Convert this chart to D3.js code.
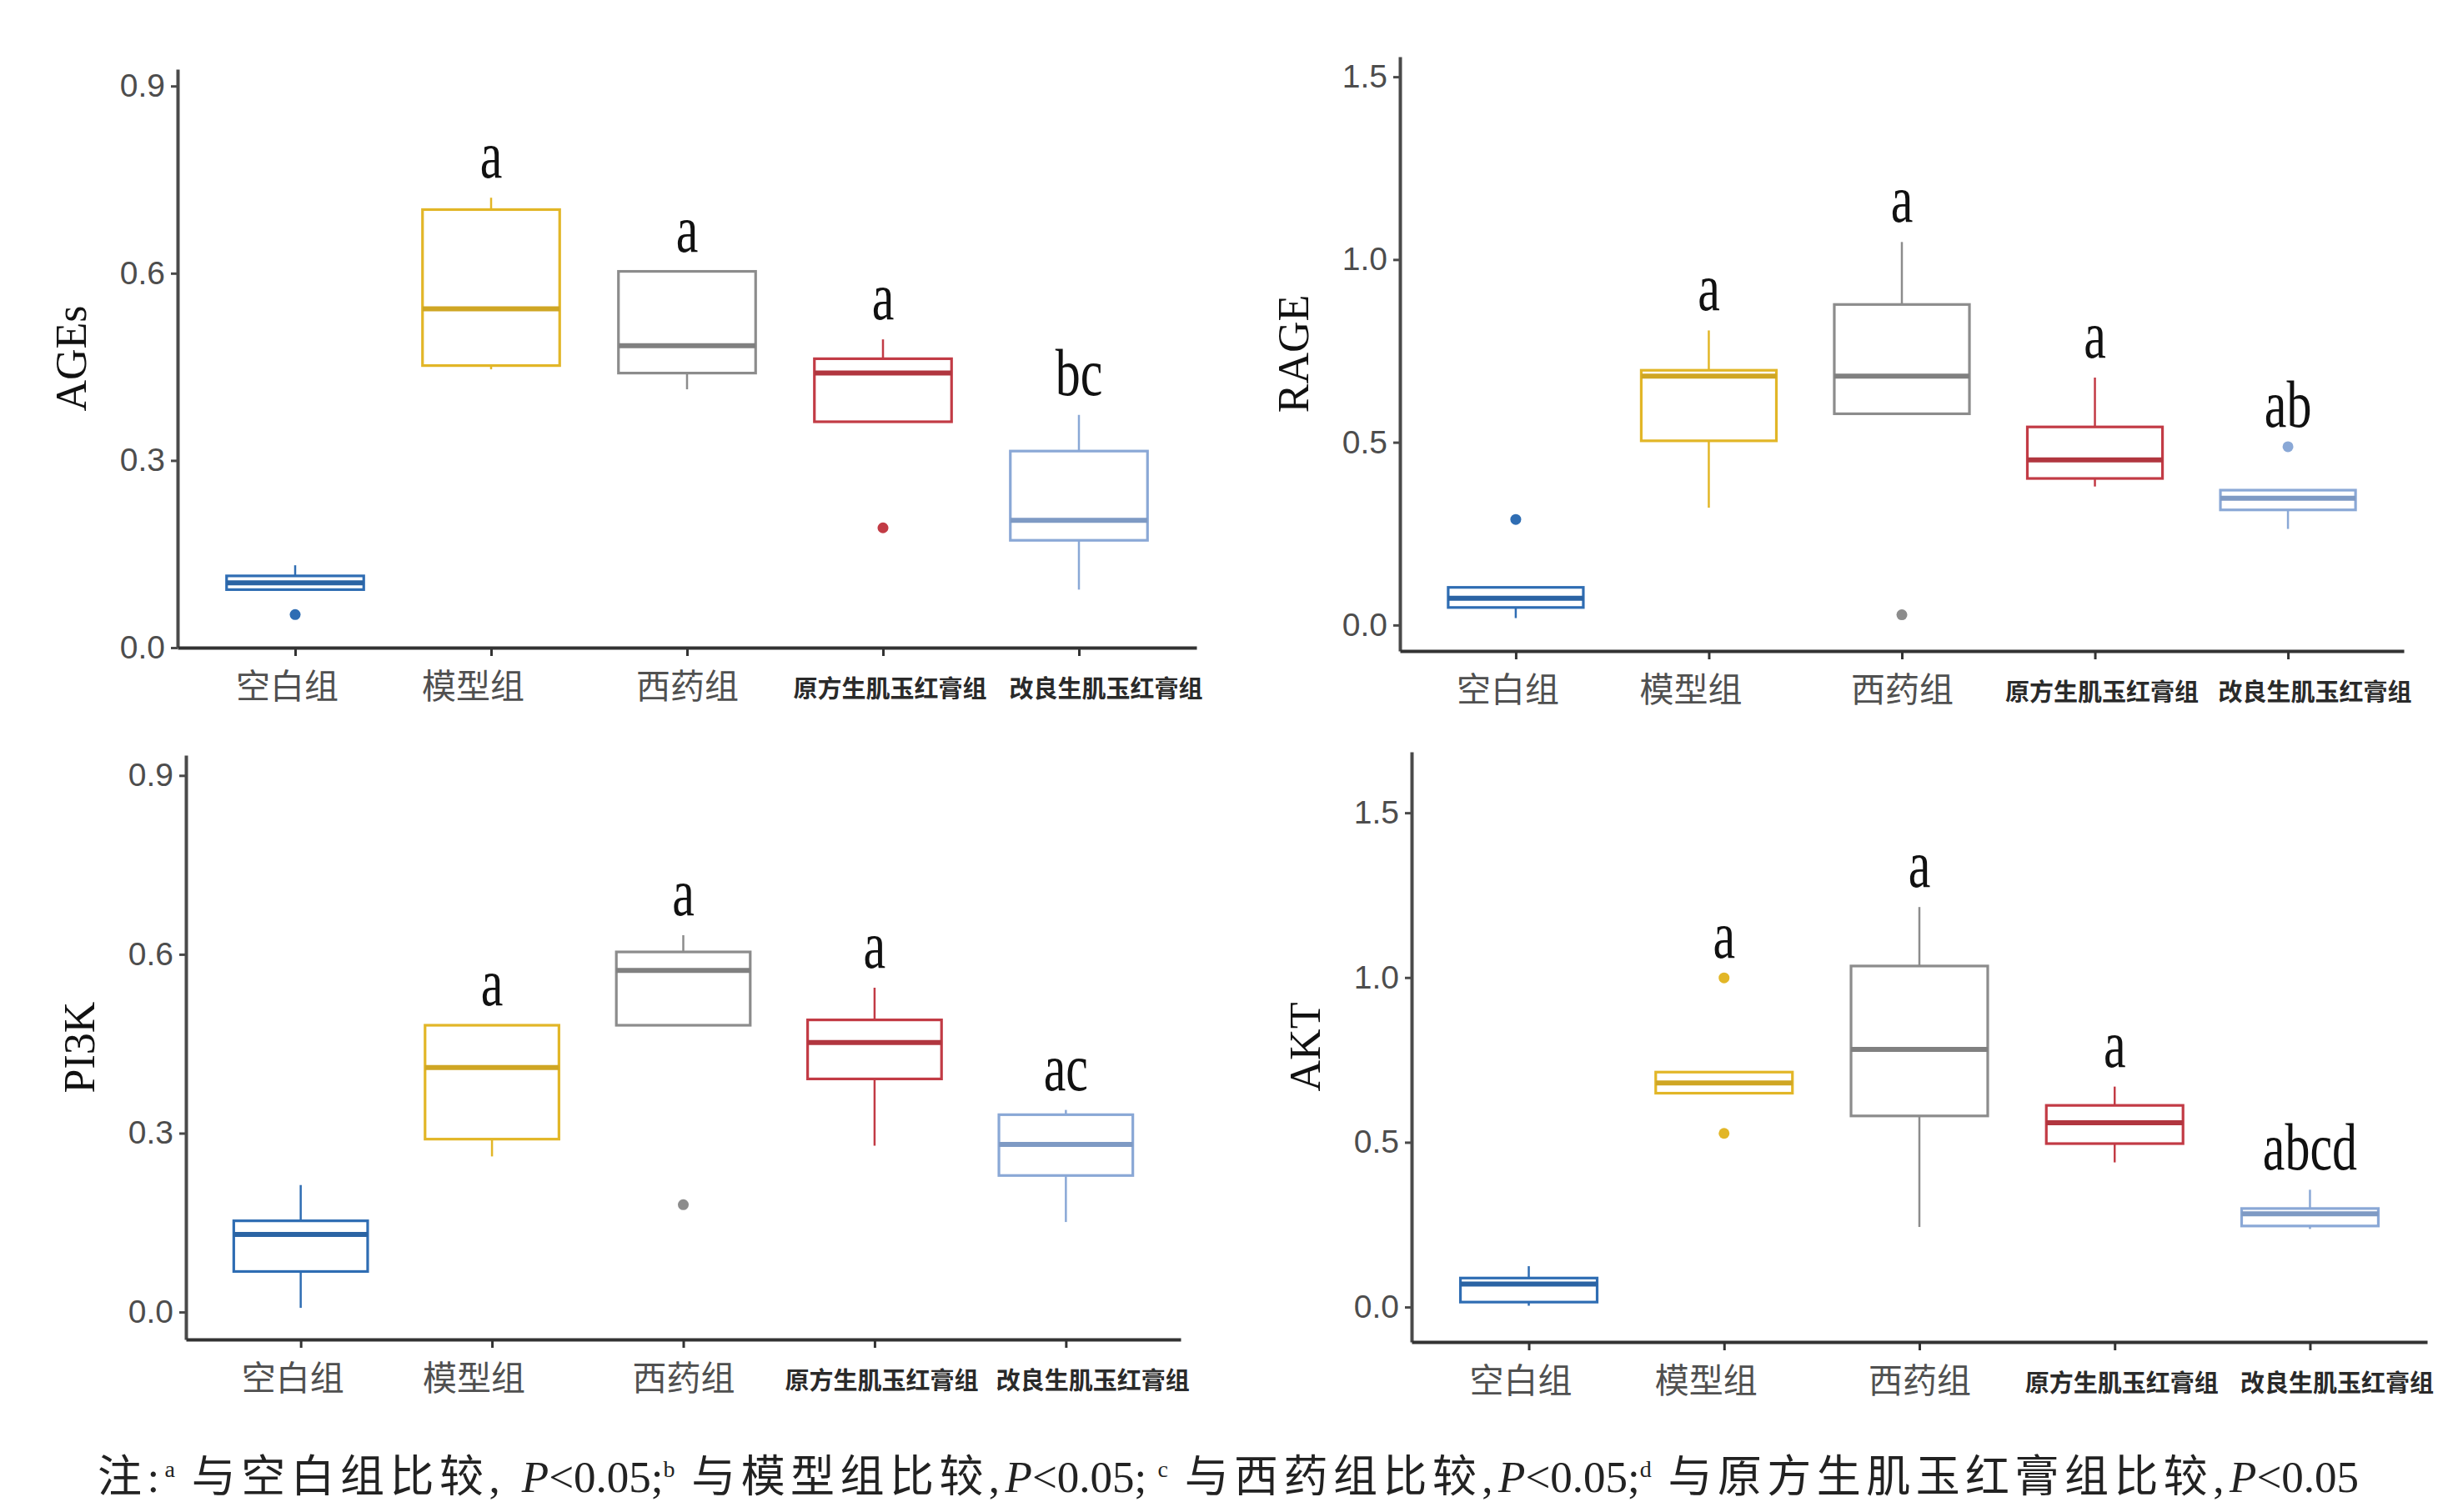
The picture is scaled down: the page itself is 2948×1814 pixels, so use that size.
<!DOCTYPE html>
<html>
<head>
<meta charset="utf-8">
<script src="https://cdn.jsdelivr.net/npm/d3@7/dist/d3.min.js"></script>
<style>
  body { margin: 0; background: #fff; }
  svg { display: block; }
</style>
</head>
<body>
<div id="chart"></div>
<script>
// ---- data ----
const groups = ["空白组", "模型组", "西药组", "原方生肌玉红膏组", "改良生肌玉红膏组"];
const groupColors = ["#2F6DB3", "#E2B627", "#8C8C8C", "#C23B45", "#8AA8D6"];

// [lower whisker, Q1, median, Q3, upper whisker]
const agesStats = [[0.093, 0.093, 0.104, 0.115, 0.132], [0.446, 0.452, 0.543, 0.702, 0.721], [0.414, 0.440, 0.484, 0.603, 0.603], [0.362, 0.362, 0.440, 0.463, 0.494], [0.093, 0.172, 0.204, 0.315, 0.373]];
const agesOutliers = [[0.053], [], [], [0.192], []];
const agesLetters = ["", "a", "a", "a", "bc"];

const rageStats = [[0.019, 0.048, 0.073, 0.103, 0.103], [0.321, 0.504, 0.681, 0.697, 0.806], [0.578, 0.578, 0.681, 0.877, 1.048], [0.379, 0.401, 0.452, 0.542, 0.677], [0.263, 0.315, 0.347, 0.369, 0.369]];
const rageOutliers = [[0.289], [], [0.028], [], [0.488]];
const rageLetters = ["", "a", "a", "a", "ab"];

const pi3kStats = [[0.007, 0.068, 0.130, 0.153, 0.213], [0.261, 0.290, 0.410, 0.481, 0.481], [0.481, 0.481, 0.573, 0.604, 0.632], [0.279, 0.391, 0.452, 0.490, 0.544], [0.151, 0.229, 0.281, 0.331, 0.339]];
const pi3kOutliers = [[], [], [0.180], [], []];
const pi3kLetters = ["", "a", "a", "a", "ac"];

const aktStats = [[0.004, 0.015, 0.070, 0.088, 0.124], [0.649, 0.649, 0.680, 0.713, 0.713], [0.243, 0.580, 0.782, 1.035, 1.214], [0.439, 0.496, 0.559, 0.612, 0.669], [0.237, 0.246, 0.283, 0.299, 0.356]];
const aktOutliers = [[], [0.999, 0.527], [], [], []];
const aktLetters = ["", "a", "a", "a", "abcd"];

const ticksSmall = [0, 0.3, 0.6, 0.9];
const ticksLarge = [0, 0.5, 1.0, 1.5];

const noteLetters = ["a", "b", "c", "d"];
const noteGroups = ["空白组", "模型组", "西药组", "原方生肌玉红膏组"];

// ---- layout ----
const W = 2948, H = 1814;
const labelShift = [-10, -22, 0, 8, 32]; // x label nudges, px
const panels = [
    { title: "AGEs", stats: agesStats, outliers: agesOutliers, letters: agesLetters, ticks: ticksSmall,
      x0: 213, x1: 1435, top: 83, bottom: 777, domain: [0, 0.927] },
    { title: "RAGE", stats: rageStats, outliers: rageOutliers, letters: rageLetters, ticks: ticksLarge,
      x0: 1679, x1: 2883, top: 68, bottom: 781, domain: [-0.071, 1.555] },
    { title: "PI3K", stats: pi3kStats, outliers: pi3kOutliers, letters: pi3kLetters, ticks: ticksSmall,
      x0: 223, x1: 1416, top: 906, bottom: 1607, domain: [-0.046, 0.934] },
    { title: "AKT", stats: aktStats, outliers: aktOutliers, letters: aktLetters, ticks: ticksLarge,
      x0: 1693, x1: 2911, top: 902, bottom: 1610, domain: [-0.106, 1.685] }
];

const svg = d3.select("#chart").append("svg")
    .attr("width", W)
    .attr("height", H);

svg.append("rect").attr("width", W).attr("height", H).attr("fill", "#fff");

panels.forEach(p => {
    const g = svg.append("g");

    const x = d3.scalePoint().domain(groups).range([p.x0, p.x1]).padding(0.6);
    const y = d3.scaleLinear().domain(p.domain).range([p.bottom, p.top]);
    const boxW = x.step() * 0.7;

    // y axis
    const yAxis = g.append("g")
        .attr("transform", `translate(${p.x0},0)`)
        .call(d3.axisLeft(y).tickValues(p.ticks).tickSize(8).tickSizeOuter(0).tickPadding(7)
            .tickFormat(d3.format(".1f")));
    yAxis.select(".domain").attr("stroke", "#4a4a4a").attr("stroke-width", 4);
    yAxis.selectAll(".tick line").attr("stroke", "#4a4a4a").attr("stroke-width", 3);
    yAxis.selectAll(".tick text")
        .attr("fill", "#4d4d4d")
        .style("font-family", "'Liberation Sans', Arial, sans-serif")
        .style("font-size", "39px");

    // x axis
    const xAxis = g.append("g")
        .attr("transform", `translate(0,${p.bottom})`)
        .call(d3.axisBottom(x).tickSize(10).tickSizeOuter(0).tickPadding(22));
    xAxis.select(".domain").attr("stroke", "#333").attr("stroke-width", 4);
    xAxis.selectAll(".tick line").attr("stroke", "#333").attr("stroke-width", 3);
    xAxis.selectAll(".tick text")
        .attr("x", (d, i) => labelShift[i])
        .attr("fill", (d, i) => i < 3 ? "#505050" : "#2a2a2a")
        .attr("dy", (d, i) => i < 3 ? "0.71em" : "0.95em")
        .style("font-family", "'Noto Sans CJK SC', sans-serif")
        .style("font-weight", (d, i) => i < 3 ? 400 : 700)
        .style("font-size", (d, i) => i < 3 ? "41px" : "29px");

    // y title
    g.append("text")
        .attr("transform", `translate(${p.x0 - 128},${(p.top + p.bottom) / 2}) rotate(-90)`)
        .attr("text-anchor", "middle")
        .attr("dy", "0.35em")
        .style("font-family", "'Liberation Serif', 'Times New Roman', serif")
        .style("font-size", "52px")
        .attr("fill", "#111")
        .text(p.title);

    // boxes
    const boxes = g.selectAll(".box")
        .data(groups.map((name, i) => ({ name, i, s: p.stats[i], out: p.outliers[i], lab: p.letters[i] })))
        .enter().append("g")
        .attr("class", "box");

    boxes.append("line")
        .attr("x1", d => x(d.name)).attr("x2", d => x(d.name))
        .attr("y1", d => y(d.s[3])).attr("y2", d => y(d.s[4]))
        .attr("stroke", d => groupColors[d.i]).attr("stroke-width", 2.5);
    boxes.append("line")
        .attr("x1", d => x(d.name)).attr("x2", d => x(d.name))
        .attr("y1", d => y(d.s[0])).attr("y2", d => y(d.s[1]))
        .attr("stroke", d => groupColors[d.i]).attr("stroke-width", 2.5);
    boxes.append("rect")
        .attr("x", d => x(d.name) - boxW / 2)
        .attr("width", boxW)
        .attr("y", d => y(d.s[3]))
        .attr("height", d => Math.max(1, y(d.s[1]) - y(d.s[3])))
        .attr("fill", "#fff")
        .attr("stroke", d => groupColors[d.i])
        .attr("stroke-width", 3.2);
    boxes.append("line")
        .attr("x1", d => x(d.name) - boxW / 2).attr("x2", d => x(d.name) + boxW / 2)
        .attr("y1", d => y(d.s[2])).attr("y2", d => y(d.s[2]))
        .attr("stroke", d => d3.color(groupColors[d.i]).darker(0.25)).attr("stroke-width", 6);

    boxes.selectAll("circle")
        .data(d => d.out.map(v => ({ v, i: d.i, name: d.name })))
        .enter().append("circle")
        .attr("cx", d => x(d.name))
        .attr("cy", d => y(d.v))
        .attr("r", 6.5)
        .attr("fill", d => groupColors[d.i]);

    // significance letters above the highest point
    boxes.filter(d => d.lab).append("text")
        .attr("transform", d => {
            const top = d3.max([d.s[4], ...d.out]);
            return `translate(${x(d.name)},${y(top) - 24}) scale(1,1.35)`;
        })
        .attr("text-anchor", "middle")
        .style("font-family", "'Liberation Serif', 'Times New Roman', serif")
        .style("font-size", "60px")
        .attr("fill", "#111")
        .text(d => d.lab);
});

// footnote
const note = svg.append("text")
    .attr("x", 117)
    .attr("y", 1790)
    .style("font-family", "'Liberation Serif', 'Noto Sans CJK SC', serif")
    .style("font-size", "53px")
    .attr("fill", "#222");

const cjkSpans = [];
cjkSpans.push(note.append("tspan").text("注:"));
noteGroups.forEach((grp, i) => {
    note.append("tspan").attr("dy", -18).style("font-size", "28px").text(noteLetters[i]);
    cjkSpans.push(note.append("tspan").attr("dy", 18).text(" 与" + grp + "比较" + (i === 0 ? ", " : ",")));
    note.append("tspan").style("font-style", "italic").text("P");
    note.append("tspan").text("<0.05" + (i < 3 ? (i === 1 ? "; " : ";") : ""));
});

// spread the Chinese characters so the line spans the same width as the original
const targetWidth = 2712;
const natural = note.node().getComputedTextLength();
const nChars = d3.sum(cjkSpans, s => s.text().length);
const extra = Math.max(0, (targetWidth - natural) / nChars);
cjkSpans.forEach(s => s.style("letter-spacing", `${extra}px`));
</script>
</body>
</html>
